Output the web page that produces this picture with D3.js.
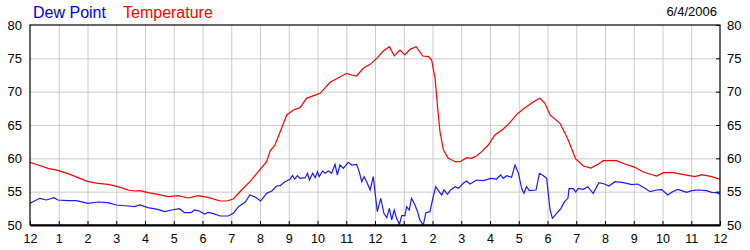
<!DOCTYPE html>
<html>
<head>
<meta charset="utf-8">
<script src="https://cdn.jsdelivr.net/npm/d3@7"></script>
<style>
  body { margin: 0; background: #fff; }
  text { font-family: "Liberation Sans", Arial, sans-serif; }
</style>
</head>
<body>
<svg id="chart"></svg>
<script>
// hours after midnight, degrees F
var tempHours = [0, 0.28, 0.63, 0.97, 1.32, 1.67, 2.02, 2.37, 2.71, 3.06, 3.41, 3.64, 3.82, 4.1, 4.45, 4.8, 5.15, 5.5, 5.84, 6.19,
  6.61, 6.84, 7.07, 7.36, 7.65, 7.94, 8.23, 8.35, 8.52, 8.75, 8.93, 9.16, 9.39, 9.62, 9.86, 10.09, 10.44, 10.73, 11.01, 11.19,
  11.36, 11.59, 11.83, 12.06, 12.29, 12.5, 12.67, 12.87, 13.04, 13.22, 13.43, 13.66, 13.86, 13.97, 14.09, 14.18, 14.26, 14.38,
  14.55, 14.79, 14.96, 15.19, 15.36, 15.54, 15.71, 15.94, 16.17, 16.46, 16.69, 16.93, 17.16, 17.39, 17.62, 17.74, 17.91, 18.09,
  18.43, 18.61, 18.72, 18.98, 19.25, 19.51, 19.77, 19.94, 20.4, 20.7, 21.04, 21.33, 21.8, 22.03, 22.38, 22.73, 23.13, 23.36, 23.71, 24];
var tempValues = [59.4, 59.0, 58.5, 58.2, 57.7, 57.1, 56.5, 56.25, 56.1, 55.75, 55.25, 55.1, 55.15, 54.85, 54.6, 54.25, 54.4, 54.05, 54.4, 54.15,
  53.6, 53.6, 53.9, 55.25, 56.5, 58.0, 59.5, 61.1, 62.0, 64.5, 66.5, 67.25, 67.6, 69.0, 69.4, 69.75, 71.4, 72.1, 72.75, 72.5,
  72.35, 73.5, 74.1, 75.0, 76.1, 76.75, 75.4, 76.25, 75.5, 76.35, 76.75, 75.35, 75.25, 74.75, 72.0, 67.5, 64.0, 61.25,
  60.0, 59.5, 59.5, 60.1, 60.0, 60.4, 61.0, 62.0, 63.5, 64.4, 65.35, 66.6, 67.4, 68.1, 68.75, 69.0, 68.25, 66.5,
  65.25, 63.75, 62.75, 59.9, 58.85, 58.55, 59.15, 59.65, 59.65, 59.15, 58.65, 57.95, 57.35, 57.85, 57.85, 57.55, 57.25, 57.55, 57.25, 56.85];

var dewHours = [0, 0.1, 0.34, 0.57, 0.83, 0.97, 1.32, 1.61, 2.02, 2.37, 2.71, 3.0, 3.41, 3.64, 3.82, 4.1, 4.45, 4.68, 4.92, 5.2,
  5.37, 5.6, 5.72, 5.89, 6.07, 6.2, 6.38, 6.61, 6.9, 7.07, 7.25, 7.48, 7.65, 7.83, 8.02, 8.23, 8.41, 8.58, 8.7, 8.87,
  9.04, 9.13, 9.21, 9.3, 9.39, 9.57, 9.65, 9.72, 9.83, 9.92, 10.0, 10.06, 10.18, 10.26, 10.38, 10.49, 10.61, 10.69, 10.78, 10.9,
  11.07, 11.19, 11.36, 11.45, 11.54, 11.62, 11.71, 11.83, 11.94, 12.08, 12.2, 12.31, 12.41, 12.5, 12.58, 12.67, 12.75, 12.85, 12.93, 13.04,
  13.1, 13.19, 13.27, 13.39, 13.48, 13.56, 13.68, 13.77, 13.91, 14.0, 14.11, 14.23, 14.32, 14.4, 14.52, 14.63, 14.79, 14.9, 15.07, 15.19,
  15.3, 15.54, 15.77, 16.02, 16.23, 16.37, 16.46, 16.58, 16.75, 16.87, 16.99, 17.1, 17.18, 17.27, 17.37, 17.6, 17.72, 17.86, 17.97, 18.09,
  18.17, 18.32, 18.47, 18.59, 18.71, 18.75, 18.9, 18.98, 19.07, 19.25, 19.4, 19.59, 19.79, 19.98, 20.14, 20.35, 20.64, 20.93, 21.14, 21.39,
  21.57, 21.8, 21.97, 22.18, 22.35, 22.53, 22.84, 23.01, 23.25, 23.53, 23.71, 23.88, 24];
var dewValues = [53.25, 53.5, 54.0, 53.75, 54.1, 53.75, 53.65, 53.65, 53.25, 53.45, 53.35, 53.0, 52.85, 52.75, 53.0, 52.6, 52.35, 52.0, 52.25, 52.45,
  51.85, 51.85, 52.25, 52.1, 51.65, 51.9, 51.7, 51.35, 51.35, 51.75, 52.75, 53.4, 54.5, 54.2, 53.6, 54.75, 55.1, 55.85, 55.9, 56.5,
  56.85, 57.4, 56.9, 57.4, 57.0, 57.1, 57.75, 56.75, 57.75, 57.1, 58.0, 57.25, 58.1, 57.75, 58.1, 57.75, 59.1, 57.5, 59.0, 58.5,
  59.4, 59.0, 59.1, 58.0, 56.5, 57.25, 56.5, 55.25, 57.25, 52.0, 54.0, 51.75, 51.1, 52.5, 50.75, 52.25, 51.0, 50.1, 51.4, 51.4,
  52.75, 52.25, 54.0, 53.0, 52.0, 50.75, 50.0, 51.85, 52.0, 53.75, 55.75, 55.0, 54.5, 55.25, 54.6, 55.25, 55.75, 55.5, 56.25, 56.6,
  56.15, 56.75, 56.65, 57.0, 56.9, 57.5, 57.0, 57.4, 57.15, 59.0, 57.75, 55.5, 54.75, 55.75, 55.15, 55.25, 57.75, 57.4, 57.0, 52.25,
  51.0, 51.75, 52.5, 53.5, 54.0, 55.45, 55.45, 54.95, 55.5, 55.35, 55.75, 54.75, 56.35, 56.15, 55.85, 56.5, 56.35, 56.05, 56.15, 55.5,
  55.0, 55.25, 55.3, 54.5, 55.0, 55.35, 54.9, 55.15, 55.25, 55.15, 54.9, 54.85, 54.6];

var hourLabels = ["12", "1", "2", "3", "4", "5", "6", "7", "8", "9", "10", "11", "12", "1", "2", "3", "4", "5", "6", "7", "8", "9", "10", "11", "12"];
var yTicks = [50, 55, 60, 65, 70, 75, 80];
var seriesNames = ["Dew Point", "Temperature"];
var dateLabel = "6/4/2006";

var margin = { top: 25, right: 30, bottom: 25, left: 30 };
var width = 750 - margin.left - margin.right;
var height = 250 - margin.top - margin.bottom;

var root = d3.select("#chart")
    .attr("width", 750)
    .attr("height", 250);

var svg = root.append("g")
    .attr("transform", "translate(" + margin.left + "," + margin.top + ")");

var xScale = d3.scaleLinear().domain([0, 24]).range([0, width]);
var yScale = d3.scaleLinear().domain([50, 80]).range([height, 0]);

// grid
svg.append("g")
    .call(d3.axisBottom(xScale).tickValues(d3.range(1, 24)).tickSize(height).tickFormat(""))
    .call(function(g) { g.select(".domain").remove(); })
    .selectAll("line").attr("stroke", "#cccccc");

svg.append("g")
    .call(d3.axisLeft(yScale).tickValues([55, 60, 65, 70, 75]).tickSize(-width).tickFormat(""))
    .call(function(g) { g.select(".domain").remove(); })
    .selectAll("line").attr("stroke", "#cccccc");

// lines
var line = d3.line()
    .x(function(d) { return xScale(d[0]); })
    .y(function(d) { return yScale(d[1]); });

svg.append("path")
    .datum(d3.zip(tempHours, tempValues))
    .attr("d", line)
    .attr("fill", "none")
    .attr("stroke", "#ff0000")
    .attr("stroke-width", 1.2);

svg.append("path")
    .datum(d3.zip(dewHours, dewValues))
    .attr("d", line)
    .attr("fill", "none")
    .attr("stroke", "#1a1aff")
    .attr("stroke-width", 1.2);

// frame
svg.append("rect")
    .attr("width", width)
    .attr("height", height)
    .attr("fill", "none")
    .attr("stroke", "#000")
    .attr("stroke-width", 1.2);

// x axis
var xAxis = svg.append("g")
    .attr("transform", "translate(0," + height + ")")
    .call(d3.axisBottom(xScale)
        .tickValues(d3.range(0, 25))
        .tickSizeInner(-4)
        .tickSizeOuter(0)
        .tickPadding(9)
        .tickFormat(function(d, i) { return hourLabels[i]; }));
xAxis.select(".domain").attr("stroke-width", 2);
xAxis.selectAll("text").attr("font-size", 12.5).attr("fill", "#000").attr("font-family", "Liberation Sans, Arial, sans-serif");

// y axes
var yLeft = svg.append("g")
    .call(d3.axisLeft(yScale).tickValues(yTicks).tickSize(0).tickPadding(8));
yLeft.select(".domain").remove();
yLeft.selectAll("text").attr("font-size", 13).attr("fill", "#000").attr("font-family", "Liberation Sans, Arial, sans-serif");

var yRight = svg.append("g")
    .attr("transform", "translate(" + width + ",0)")
    .call(d3.axisRight(yScale).tickValues(yTicks).tickSize(-4).tickPadding(7));
yRight.select(".domain").remove();
yRight.selectAll("text").attr("font-size", 13).attr("fill", "#000").attr("font-family", "Liberation Sans, Arial, sans-serif");

// legend
root.append("text")
    .attr("x", 33)
    .attr("y", 18)
    .attr("font-size", 16)
    .attr("fill", "#0000ff")
    .text(seriesNames[0]);

root.append("text")
    .attr("x", 123)
    .attr("y", 18)
    .attr("font-size", 16)
    .attr("fill", "#ff0000")
    .text(seriesNames[1]);

root.append("text")
    .attr("x", 717)
    .attr("y", 16)
    .attr("font-size", 13)
    .attr("text-anchor", "end")
    .attr("fill", "#000")
    .text(dateLabel);
</script>
</body>
</html>
